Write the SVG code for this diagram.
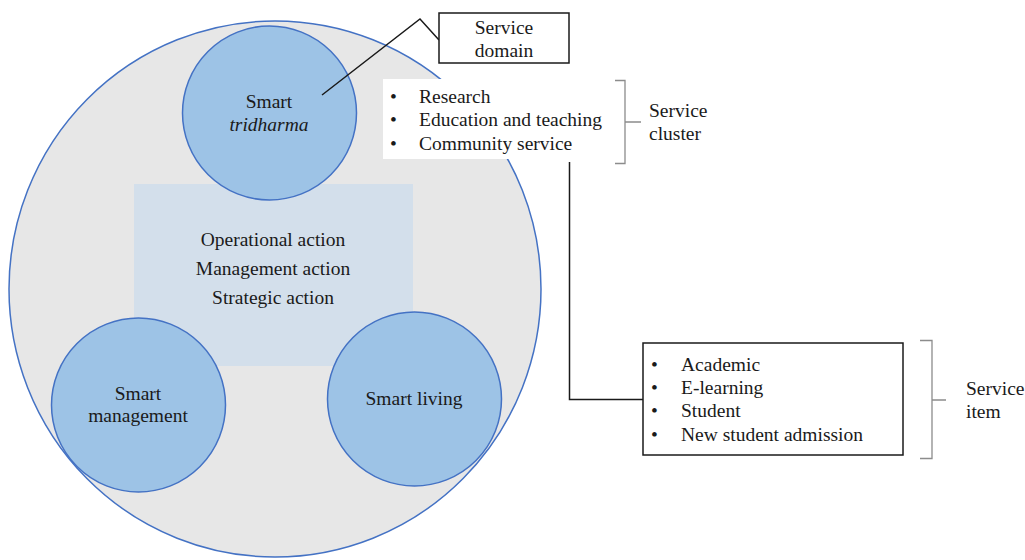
<svg xmlns="http://www.w3.org/2000/svg" width="1025" height="560" viewBox="0 0 1025 560">
<style>
text{font-family:"Liberation Serif","Times New Roman",serif;font-size:19.5px;fill:#1a1a1a}
.c{text-anchor:middle}
.small{fill:#9dc3e6;stroke:#4472c4;stroke-width:1.5}
.line{fill:none;stroke:#1a1a1a;stroke-width:1.5}
.brace{fill:none;stroke:#8c8c8c;stroke-width:1.3}
</style>
<rect width="1025" height="560" fill="#ffffff"/>
<g id="outer">
<ellipse cx="275" cy="289" rx="266" ry="268" fill="#e7e7e7" stroke="#4472c4" stroke-width="1.5"/>
</g>
<g id="actions">
<rect x="134" y="184" width="279" height="182" fill="#d3dfeb"/>
<text class="c" x="273" y="246">Operational action</text>
<text class="c" x="273" y="275">Management action</text>
<text class="c" x="273" y="304">Strategic action</text>
</g>
<g id="smart-tridharma">
<circle class="small" cx="269.5" cy="113" r="87"/>
<text class="c" x="269" y="108">Smart</text>
<text class="c" x="269" y="131" font-style="italic">tridharma</text>
</g>
<g id="smart-management">
<circle class="small" cx="138.5" cy="405" r="87"/>
<text class="c" x="138" y="400">Smart</text>
<text class="c" x="138" y="422">management</text>
</g>
<g id="smart-living">
<circle class="small" cx="414.5" cy="399" r="87"/>
<text class="c" x="414" y="405">Smart living</text>
</g>
<g id="connectors">
<polyline class="line" points="322,95 420,19 439,40"/>
<polyline class="line" points="569.5,162 569.5,399.5 643,399.5"/>
</g>
<g id="service-domain">
<rect x="439" y="13" width="130" height="50" fill="#ffffff" stroke="#1a1a1a" stroke-width="1.5"/>
<text class="c" x="504" y="34">Service</text>
<text class="c" x="504" y="57">domain</text>
</g>
<g id="service-cluster-list">
<rect x="383" y="79" width="229" height="80" fill="#ffffff"/>
<text x="390" y="103">•</text>
<text x="419" y="103">Research</text>
<text x="390" y="126">•</text>
<text x="419" y="126">Education and teaching</text>
<text x="390" y="150">•</text>
<text x="419" y="150">Community service</text>
</g>
<g id="service-cluster-brace">
<path class="brace" d="M615,80.5 H625 V122 H641 M625,122 V163.5 H615"/>
<text x="649" y="117">Service</text>
<text x="649" y="140">cluster</text>
</g>
<g id="service-item-list">
<rect x="643" y="343" width="260" height="112" fill="#ffffff" stroke="#1a1a1a" stroke-width="1.5"/>
<text x="651" y="371">•</text>
<text x="681" y="371">Academic</text>
<text x="651" y="394">•</text>
<text x="681" y="394">E-learning</text>
<text x="651" y="417">•</text>
<text x="681" y="417">Student</text>
<text x="651" y="441">•</text>
<text x="681" y="441">New student admission</text>
</g>
<g id="service-item-brace">
<path class="brace" d="M920,340.5 H932 V400 H946 M932,400 V458.5 H920"/>
<text x="966" y="395">Service</text>
<text x="966" y="418">item</text>
</g>
</svg>
